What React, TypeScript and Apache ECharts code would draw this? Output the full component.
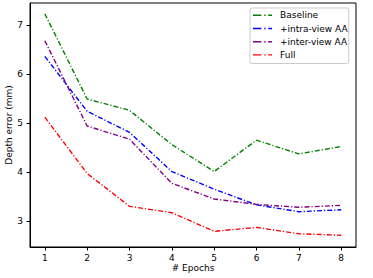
import React, { useEffect, useRef } from "react";
import * as echarts from "echarts";

const epochs = [1, 2, 3, 4, 5, 6, 7, 8];
const baseline = [7.23, 5.49, 5.26, 4.56, 4.01, 4.65, 4.37, 4.52];
const intraView = [6.36, 5.24, 4.81, 4.01, 3.65, 3.33, 3.19, 3.23];
const interView = [6.68, 4.94, 4.67, 3.77, 3.45, 3.34, 3.28, 3.32];
const full = [5.12, 3.97, 3.3, 3.17, 2.79, 2.87, 2.74, 2.71];
const xTicks = [1, 2, 3, 4, 5, 6, 7, 8];
const yTicks = [3, 4, 5, 6, 7];

const seriesDefs = [
  { name: "Baseline", data: baseline, color: "#008000" },
  { name: "+intra-view AA", data: intraView, color: "#0000ff" },
  { name: "+inter-view AA", data: interView, color: "#800080" },
  { name: "Full", data: full, color: "#ff0000" },
];

const FONT = "DejaVu Sans";
// dash-dot legend sample: long dash, dot, short dash (19 x 1.4 box)
const LEGEND_ICON = "path://M0,0H8.3V1.4H0Z M11.3,0H12.7V1.4H11.3Z M15.2,0H19V1.4H15.2Z";

export default function App() {
  const ref = useRef<HTMLDivElement>(null);
  useEffect(() => {
    if (!ref.current) return;
    const chart = echarts.init(ref.current, null, { renderer: "svg" });
    chart.setOption({
      animation: false,
      backgroundColor: "#ffffff",
      textStyle: { fontFamily: FONT, color: "#000" },
      grid: {
        left: 30,
        top: 3,
        right: 17,
        bottom: 31,
        containLabel: false,
        outerBoundsMode: "none",
        show: true,
        borderColor: "#000",
        borderWidth: 1,
        backgroundColor: "transparent",
      },
      legend: {
        orient: "vertical",
        left: 250,
        top: 8,
        itemWidth: 19,
        itemHeight: 1.4,
        itemGap: 4.2,
        padding: [2.8, 1, 4.1, 3],
        borderColor: "#cccccc",
        borderWidth: 1,
        borderRadius: 2,
        backgroundColor: "rgba(255,255,255,0.8)",
        textStyle: { fontFamily: FONT, fontSize: 9, color: "#000", padding: [0, 0, 0, 3] },
        data: seriesDefs.map((s) => ({ name: s.name, icon: LEGEND_ICON, itemStyle: { color: s.color } })),
      },
      xAxis: {
        type: "value",
        min: 0.65,
        max: 8.35,
        name: "# Epochs",
        nameLocation: "middle",
        nameGap: 16,
        nameMoveOverlap: false,
        nameTextStyle: { fontFamily: FONT, fontSize: 9, color: "#000" },
        splitLine: { show: false },
        axisLine: { show: true, onZero: false, lineStyle: { color: "#000", width: 1 } },
        axisTick: { show: true, inside: false, length: 3.5, customValues: xTicks, lineStyle: { color: "#000" } },
        axisLabel: { customValues: xTicks, margin: 6, fontFamily: FONT, fontSize: 9, color: "#000" },
      },
      yAxis: {
        type: "value",
        min: 2.47,
        max: 7.45,
        name: "Depth error (mm)",
        nameLocation: "middle",
        nameGap: 17,
        nameMoveOverlap: false,
        nameTextStyle: { fontFamily: FONT, fontSize: 9, color: "#000" },
        splitLine: { show: false },
        axisLine: { show: true, onZero: false, lineStyle: { color: "#000", width: 1 } },
        axisTick: { show: true, inside: false, length: 3.5, customValues: yTicks, lineStyle: { color: "#000" } },
        axisLabel: { customValues: yTicks, margin: 7, fontFamily: FONT, fontSize: 9, color: "#000" },
      },
      series: seriesDefs.map((s) => ({
        name: s.name,
        type: "line",
        data: epochs.map((e, i) => [e, s.data[i]]),
        symbol: "none",
        showSymbol: false,
        color: s.color,
        lineStyle: { color: s.color, width: 1.4, type: [5, 2, 1.2, 2] },
        itemStyle: { color: s.color },
      })),
    });
    return () => chart.dispose();
  }, []);
  return <div ref={ref} style={{ position: "fixed", left: 0, top: 0, width: 373, height: 278 }} />;
}
